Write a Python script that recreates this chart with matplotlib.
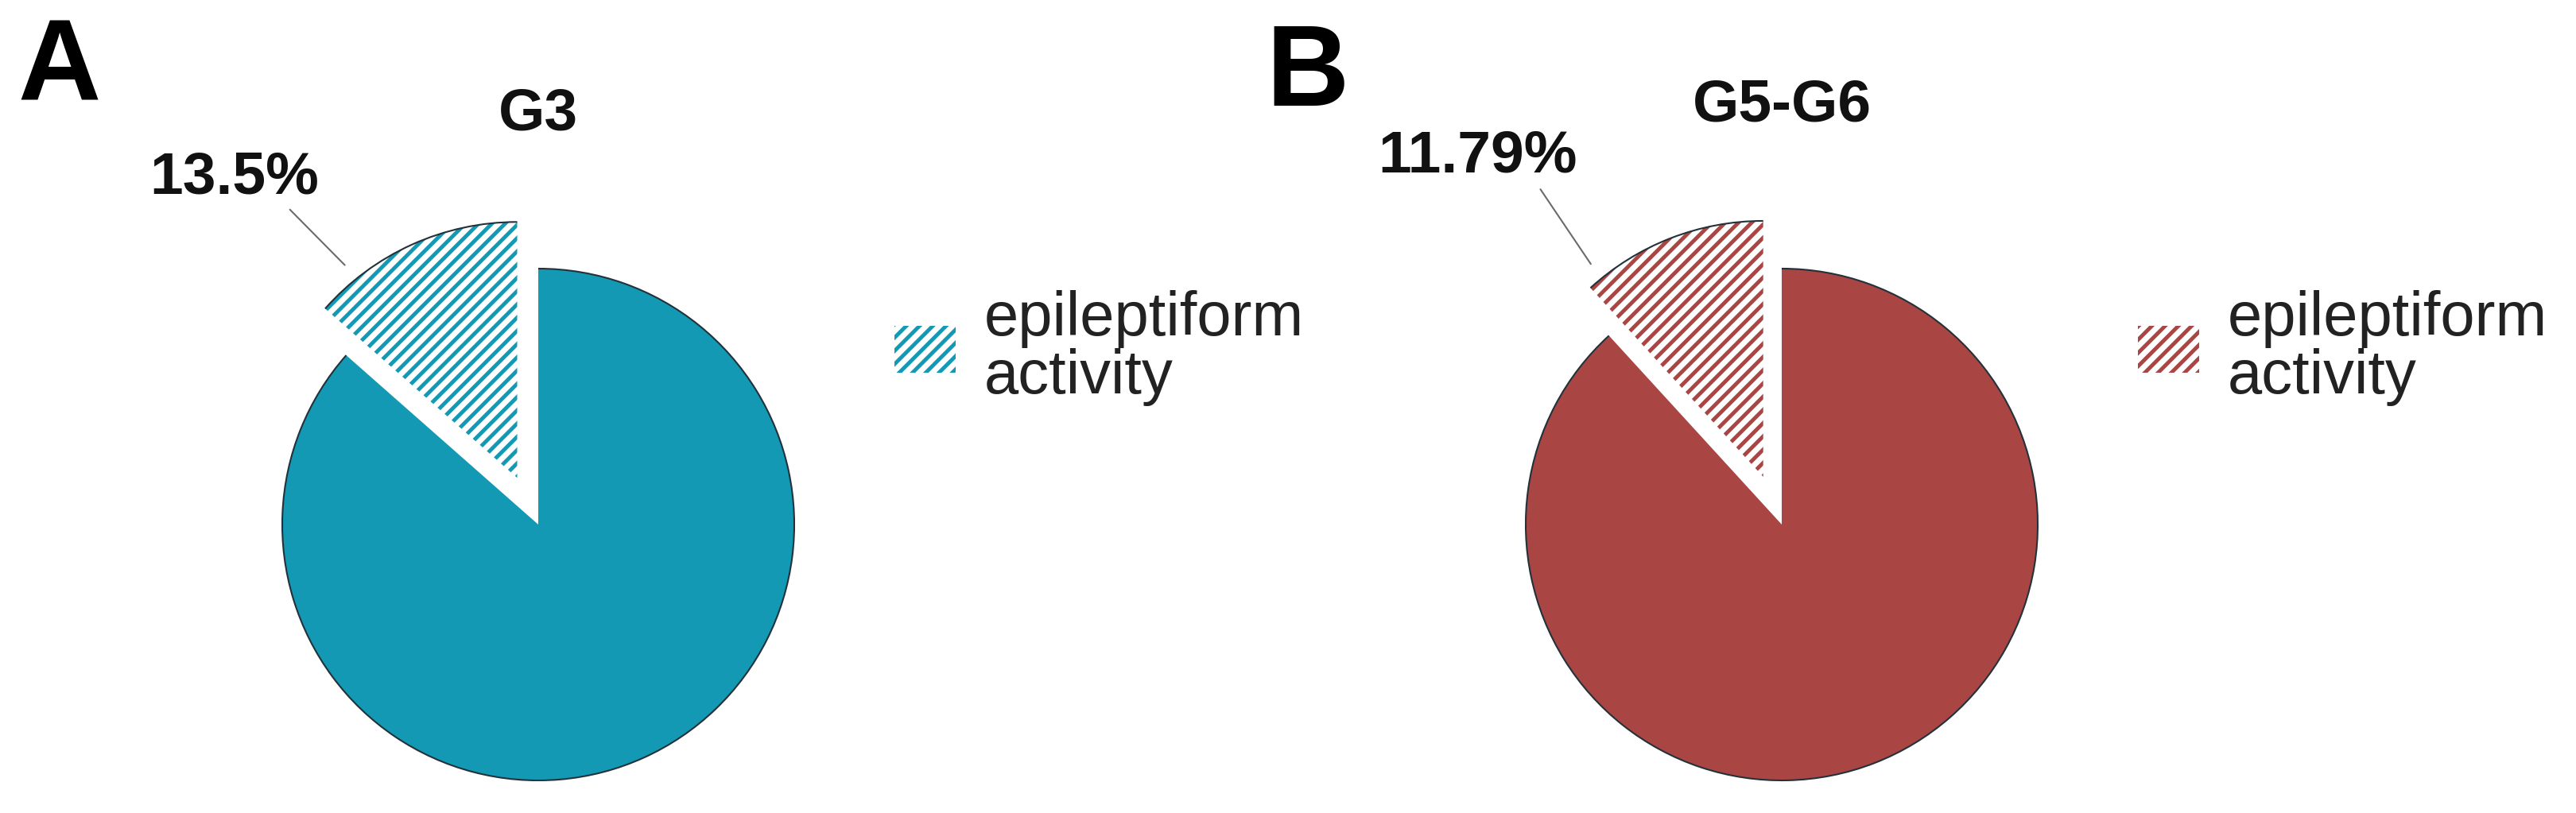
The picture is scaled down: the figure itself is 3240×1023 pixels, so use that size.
import numpy as np
import matplotlib
matplotlib.use("Agg")
import matplotlib.pyplot as plt
from matplotlib.patches import Arc

# ---------------- DATA ----------------

panels = ["A", "B"]
groups = ["G3", "G5-G6"]
epileptiform_pct = [13.5, 11.79]
pct_labels = ["13.5%", "11.79%"]
legend_label = "epileptiform\nactivity"
colors = ["#1499B5", "#A94543"]

# ---------------- STYLE ----------------

plt.rcParams["font.family"] = ["Liberation Sans", "DejaVu Sans"]
plt.rcParams["hatch.linewidth"] = 3.5

EDGE = "#22313a"
LIM = 1.5          # data half-width of each pie axes
RADIUS_PX = 322    # pie radius in pixels
W, H = 3240, 1023

# pie centres (px) and label placements (data units)
centers_px = [(677, 660), (2241, 660)]
pct_pos = [(-1.186, 1.295), (-1.189, 1.376)]
title_y = [1.543, 1.575]
letter_pos = [(22, 125), (1592, 133)]

fig = plt.figure(figsize=(W / 100, H / 100), dpi=100)

for i in range(2):
    cx, cy = centers_px[i]
    side = 2 * LIM * RADIUS_PX
    ax = fig.add_axes([(cx - side / 2) / W, 1 - (cy + side / 2) / H, side / W, side / H])

    p = epileptiform_pct[i]
    wedges, _ = ax.pie(
        [p, 100 - p],
        explode=[0.2, 0],
        colors=["white", colors[i]],
        startangle=90,
        radius=1.0,
        wedgeprops=dict(linewidth=0, clip_on=False),
    )
    ax.set_xlim(-LIM, LIM)
    ax.set_ylim(-LIM, LIM)
    ax.set_aspect("equal")
    ax.axis("off")

    wedges[0].set_edgecolor(colors[i])
    wedges[0].set_hatch("//")
    wedges[0].set_linewidth(0)

    # thin dark outline on the outer arcs
    for w in wedges:
        ax.add_patch(Arc(w.center, 2 * w.r, 2 * w.r, theta1=w.theta1, theta2=w.theta2,
                         color=EDGE, lw=1.5, clip_on=False))

    # percentage label with leader line
    w = wedges[0]
    ang = np.deg2rad(129)
    tip = (w.center[0] + 1.07 * w.r * np.cos(ang), w.center[1] + 1.07 * w.r * np.sin(ang))
    ax.annotate(pct_labels[i], xy=tip, xytext=pct_pos[i], ha="center", va="baseline",
                fontsize=54, fontweight="bold", color="#111111", annotation_clip=False,
                arrowprops=dict(arrowstyle="-", color="#6b6b6b", lw=1.5,
                                shrinkA=3, shrinkB=0, relpos=(0.8, 0)))

    ax.text(0, title_y[i], groups[i], ha="center", va="baseline",
            fontsize=54, fontweight="bold", color="#111111")

    leg = ax.legend([wedges[0]], [legend_label], loc="center left",
                    bbox_to_anchor=(1.39, 0.69), bbox_transform=ax.transData,
                    frameon=False, fontsize=56, handlelength=1.0, handleheight=0.8,
                    handletextpad=0.45, borderpad=0, borderaxespad=0,
                    labelcolor="#222222")
    for t in leg.get_texts():
        t.set_linespacing(1.0)

    lx, ly = letter_pos[i]
    fig.text(lx / W, 1 - ly / H, panels[i], ha="left", va="baseline",
             fontsize=104, fontweight="bold", color="black")

fig.savefig("out.png", dpi=100)
